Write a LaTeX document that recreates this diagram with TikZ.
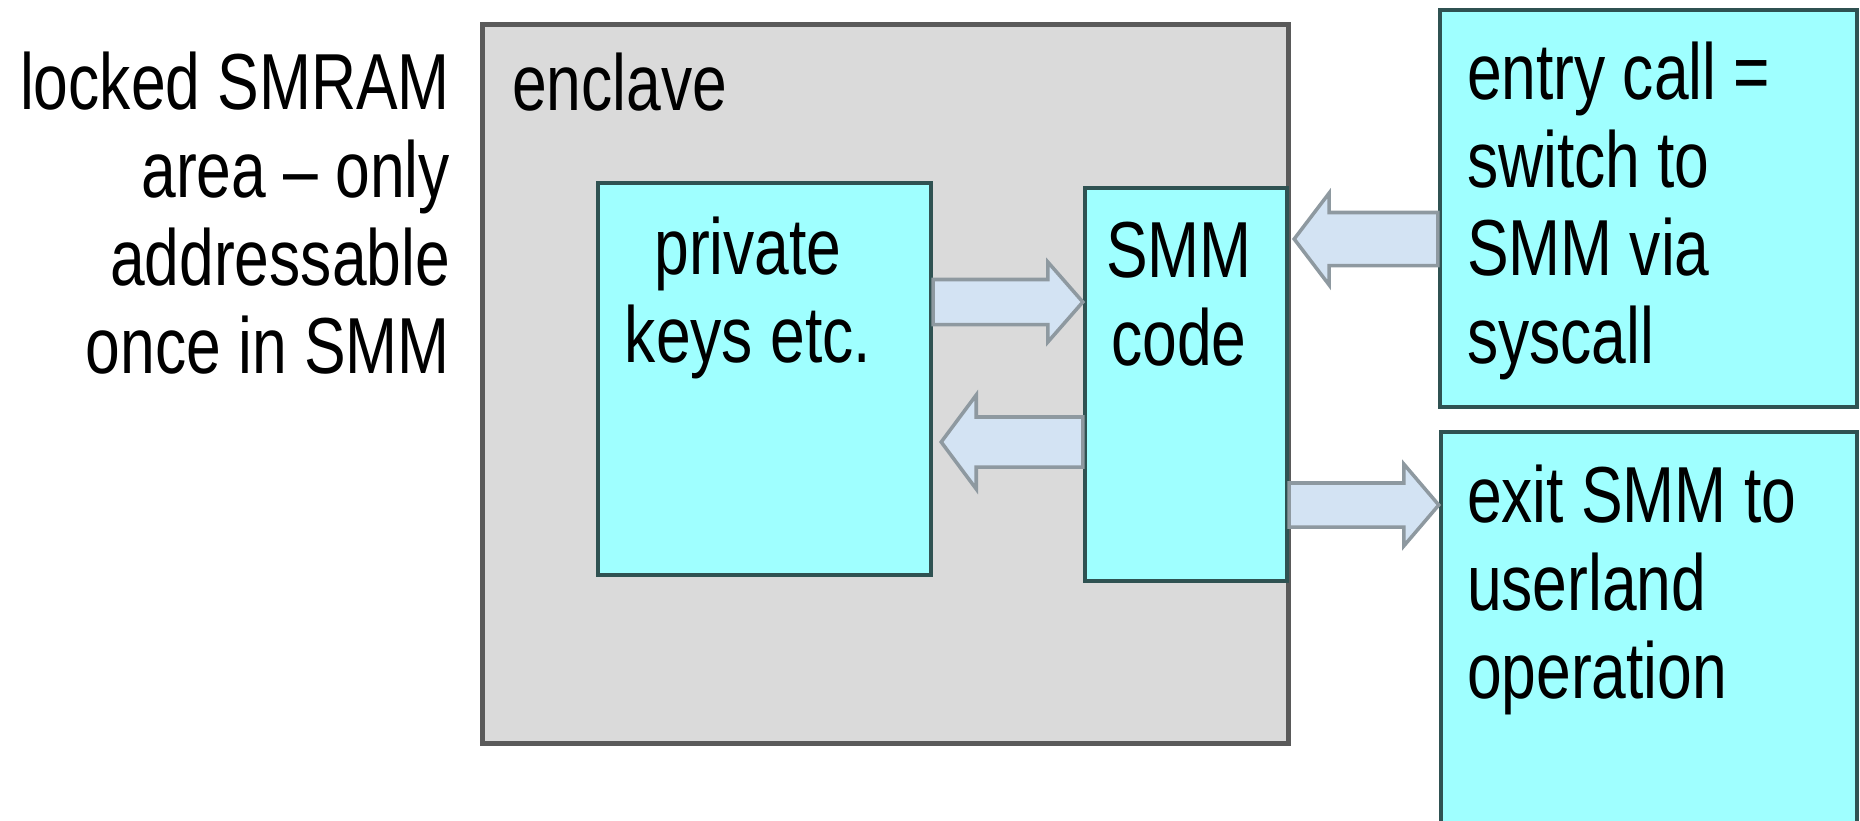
\documentclass[tikz,border=0pt]{standalone}
\usepackage{fontspec}
\setmainfont{Liberation Sans}[FakeStretch=0.785]
\usetikzlibrary{calc}
\definecolor{encfill}{HTML}{DADADA}
\definecolor{encline}{HTML}{5A5A5A}
\definecolor{cyanbox}{HTML}{9FFFFF}
\definecolor{boxline}{HTML}{2F5252}
\definecolor{arrfill}{HTML}{D3E3F3}
\definecolor{arrline}{HTML}{8E99A0}
% block arrow: start, tip, half body, half head
\newcommand{\fatarrow}[4]{%
\draw[fa] let \p1=#1,\p2=#2,\n1={sign(\x2-\x1)*0.35cm} in
(\x1,\y1+#3)--(\x2-\n1*1pt,\y1+#3)--(\x2-\n1*1pt,\y1+#4)--(\x2,\y1)
--(\x2-\n1*1pt,\y1-#4)--(\x2-\n1*1pt,\y1-#3)--(\x1,\y1-#3)--cycle;}
\begin{document}
\begin{tikzpicture}[x=0.01cm,y=-0.01cm,font=\fontsize{22.6}{25}\selectfont]
\tikzset{encl/.style={draw=encline,fill=encfill,line width=1.4pt,inner sep=0},
box/.style={draw=boxline,fill=cyanbox,line width=1.2pt,inner sep=0},
lbl/.style={inner sep=0,outer sep=0},
fa/.style={draw=arrline,fill=arrfill,line width=1pt,line join=miter}}
\useasboundingbox(0,0)rectangle(1860,820);
\node[encl,minimum width=8.05cm,minimum height=7.18cm](enclave)at(885.5,384){};
\node[box,minimum width=3.33cm,minimum height=3.92cm](keys)at(764.5,379){};
\node[box,minimum width=2.02cm,minimum height=3.93cm](code)at(1186,384.5){};
\node[box,minimum width=4.17cm,minimum height=3.97cm](entry)at(1648.5,208.5){};
\node[box,minimum width=4.16cm,minimum height=4.20cm](exit)at(1649,642){};
%% arrows
\fatarrow{(keys.east |- 0,302)}{(code.west |- 0,302)}{0.225cm}{0.40cm}
\fatarrow{(code.west |- 0,442)}{([xshift=0.08cm]keys.east |- 0,442)}{0.25cm}{0.47cm}
\fatarrow{(entry.west |- 0,239)}{([xshift=0.05cm]code.east |- 0,239)}{0.265cm}{0.46cm}
\fatarrow{(code.east |- 0,505)}{(exit.west |- 0,505)}{0.22cm}{0.41cm}
%% texts (base = last line)
\node[lbl,anchor=base east,align=right](lock)at(450,373){locked SMRAM\\area -- only\\addressable\\once in SMM};
\node[lbl,anchor=base west](enc)at(512,110){enclave};
\node[lbl,anchor=base,align=center](keyst)at(748,362){private\\keys etc.};
\node[lbl,anchor=base,align=center](codet)at(1179,365){SMM\\code};
\node[lbl,anchor=base west,align=left](entryt)at(1467,363){entry call =\\switch to\\SMM via\\syscall};
\node[lbl,anchor=base west,align=left](exitt)at(1467,698){exit SMM to\\userland\\operation};
\end{tikzpicture}
\end{document}
